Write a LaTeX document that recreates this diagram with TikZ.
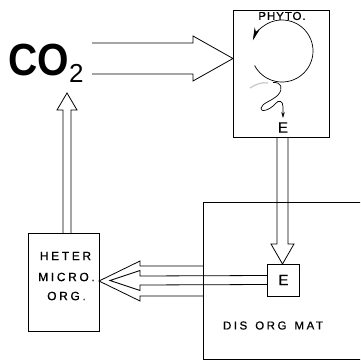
\documentclass[tikz,border=0pt]{standalone}
\usepackage{fontspec}
\setmainfont{Liberation Sans}
\newfontfamily\spc[LetterSpace=22,FakeBold=0.6]{Liberation Sans}
\newfontfamily\spcs[LetterSpace=8,FakeBold=0.6]{Liberation Sans}
\usetikzlibrary{calc,arrows.meta}
\begin{document}
\begin{tikzpicture}[x=1pt,y=-1pt,line width=0.8pt,
  boxnode/.style={draw,inner sep=0pt,outer sep=0pt},
  hollow/.style={draw,line join=miter},
  lbl/.style={font=\spc\fontsize{12}{12}\selectfont,inner sep=0pt}]
\useasboundingbox (0,0) rectangle (360,361);
\clip (0,0) rectangle (360,361);
% boxes
\node[boxnode,minimum width=96pt,minimum height=127pt] (phyto) at (281,73.5) {};
\node[boxnode,minimum width=170pt,minimum height=157pt] (dom) at (288,280.5) {};
\node[boxnode,minimum width=32pt,minimum height=32pt] (ebox) at (283,280) {};
\node[boxnode,minimum width=71pt,minimum height=98pt] (heter) at (63.5,282) {};
% texts
\node[inner sep=0pt,anchor=base west,font=\bfseries\fontsize{45}{45}\selectfont] (co2) at (8,75)
  {\scalebox{0.9}[1]{CO}\raisebox{-7pt}{\mdseries\fontsize{26}{26}\selectfont 2}};
\node[fill=white,inner sep=1pt,font=\spcs\fontsize{11.5}{11.5}\selectfont] (phytolbl) at (282,16) {PHYTO.};
\node[inner sep=0pt,font=\spcs\fontsize{15}{15}\selectfont] (e1) at (283,127.5) {E};
\node[inner sep=0pt,font=\spcs\fontsize{15}{15}\selectfont] (e2) at ($(ebox.center)+(0.5,0)$) {E};
\node[lbl] (h1) at (65.5,256) {HETER};
\node[lbl] (h2) at (66.5,277) {MICRO.};
\node[lbl] (h3) at (66.5,296) {ORG.};
\node[lbl,font=\spc\fontsize{11.5}{11.5}\selectfont] (dlbl) at (273,325.5) {DIS\hspace{8pt}ORG\hspace{8pt}MAT};
% cycle in phyto
\draw[line width=0.7pt,-{Stealth[length=13pt,width=5.5pt]}] (282,51) ++(152:31) arc[start angle=152,end angle=-160,radius=31];
\draw[gray!45,line width=1.2pt] (250,88) .. controls (256,84) and (262,82) .. (268,83);
\draw[line width=0.7pt,-{Stealth[length=6pt,width=3.5pt]}] (273,82.5) .. controls (281,82) and (284,88) .. (278,95)
  .. controls (272,101) and (262,103) .. (261,108) .. controls (260,113) and (270,110) .. (275,104)
  .. controls (279,99) and (283,101) .. (283,107) -- (283,118);
% arrow CO2 -> phyto
\coordinate (t1) at (92,58.5);
\coordinate (p1) at (phyto.west |- t1);
\draw[hollow] ($(t1)+(0,-15.5)$) -- ($(p1)+(-40,-15.5)$) -- ($(p1)+(-40,-22.5)$) -- (p1)
  -- ($(p1)+(-40,22.5)$) -- ($(p1)+(-40,15.5)$) -- ($(t1)+(0,15.5)$);
% arrow phyto -> E
\coordinate (t2) at ($(phyto.south)+(1.5,0)$);
\coordinate (p2) at (t2 |- ebox.north);
\draw[hollow] ($(t2)+(-5.5,0)$) -- ($(p2)+(-5.5,-20)$) -- ($(p2)+(-11.5,-20)$) -- (p2)
  -- ($(p2)+(11.5,-20)$) -- ($(p2)+(5.5,-20)$) -- ($(t2)+(5.5,0)$);
% arrow heter -> CO2
\coordinate (t3) at ($(heter.north)+(3.5,0)$);
\coordinate (p3) at (t3 |- 0,93);
\draw[hollow] ($(t3)+(-4,0)$) -- ($(p3)+(-4,17)$) -- ($(p3)+(-10,17)$) -- (p3)
  -- ($(p3)+(10,17)$) -- ($(p3)+(4,17)$) -- ($(t3)+(4,0)$);
% arrow DOM -> heter (outer)
\coordinate (p4) at ($(heter.east)+(0,-1)$);
\coordinate (t4) at (dom.west |- p4);
\draw[hollow] ($(t4)+(0,-15)$) -- ($(p4)+(41,-15)$) -- ($(p4)+(41,-20)$) -- (p4)
  -- ($(p4)+(41,20)$) -- ($(p4)+(41,15)$) -- ($(t4)+(0,15)$);
% arrow E -> heter (inner)
\coordinate (t5) at (ebox.west);
\coordinate (p5) at ($(heter.east)+(11,-1.5)$);
\draw[hollow] ($(t5)+(0,-4.5)$) -- ($(p5)+(30,-4.5)$) -- ($(p5)+(30,-10)$) -- (p5)
  -- ($(p5)+(30,10)$) -- ($(p5)+(30,4.5)$) -- ($(t5)+(0,4.5)$);
\end{tikzpicture}
\end{document}
